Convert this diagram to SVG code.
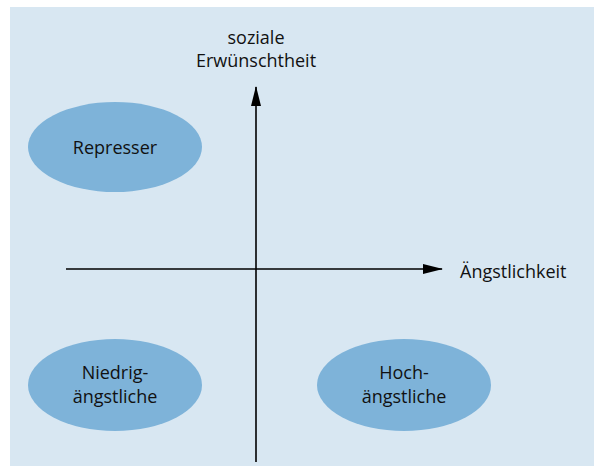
<svg xmlns="http://www.w3.org/2000/svg" width="594" height="471" viewBox="0 0 594 471">
<style>
.bg{fill:#d8e7f2}
.node{fill:#7eb3d9}
.t{font-family:"Open Sans","Liberation Sans",sans-serif;font-size:18px;fill:#111;text-anchor:middle}
.ax{stroke:#000;stroke-width:1.6;fill:none}
</style>
<defs>
<marker id="ah2" markerWidth="20" markerHeight="10" refX="19" refY="5" orient="auto" markerUnits="userSpaceOnUse">
<path d="M0,0 L20,5 L0,10 Z" fill="#000"/>
</marker>
</defs>
<rect class="bg" x="10" y="7" width="584" height="459"/>
<g id="connectors">
<line class="ax" x1="256" y1="462" x2="256" y2="87" marker-end="url(#ah2)"/>
<line class="ax" x1="66" y1="269" x2="442" y2="269" marker-end="url(#ah2)"/>
</g>
<g id="y-label">
<text class="t" x="256" y="44">soziale</text>
<text class="t" x="256" y="67">Erwünschtheit</text>
</g>
<g id="x-label">
<text class="t" x="460" y="278" style="text-anchor:start">Ängstlichkeit</text>
</g>
<g id="represser">
<ellipse class="node" cx="115" cy="147" rx="87" ry="45"/>
<text class="t" x="115" y="154">Represser</text>
</g>
<g id="niedrig">
<ellipse class="node" cx="115" cy="385" rx="87" ry="46"/>
<text class="t" x="115" y="379">Niedrig-</text>
<text class="t" x="115" y="403">ängstliche</text>
</g>
<g id="hoch">
<ellipse class="node" cx="404" cy="385" rx="87" ry="46"/>
<text class="t" x="404" y="379">Hoch-</text>
<text class="t" x="404" y="403">ängstliche</text>
</g>
</svg>
